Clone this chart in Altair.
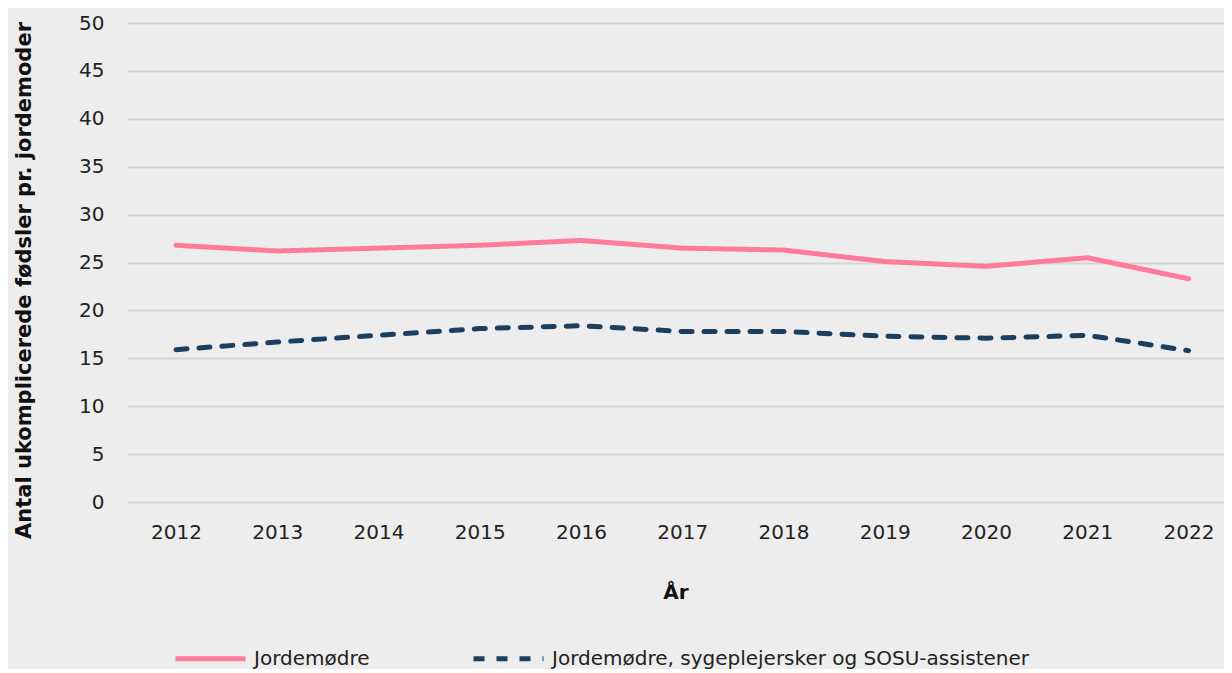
import altair as alt
import pandas as pd

years = [2012, 2013, 2014, 2015, 2016, 2017, 2018, 2019, 2020, 2021, 2022]
jordemodre = [26.8, 26.2, 26.5, 26.8, 27.3, 26.5, 26.3, 25.1, 24.6, 25.5, 23.3]
samlet = [15.9, 16.7, 17.4, 18.1, 18.4, 17.8, 17.8, 17.3, 17.1, 17.4, 15.8]
series_names = ["Jordemødre", "Jordemødre, sygeplejersker og SOSU-assistener"]

rows = []
for y, v in zip(years, jordemodre):
    rows.append({"År": y, "Værdi": v, "Serie": series_names[0]})
for y, v in zip(years, samlet):
    rows.append({"År": y, "Værdi": v, "Serie": series_names[1]})
df = pd.DataFrame(rows)

FONT = "DejaVu Sans"

chart = alt.Chart(df).mark_line(strokeWidth=5, strokeCap="round", strokeJoin="round").encode(
    x=alt.X("År:Q",
            scale=alt.Scale(domain=[2011.516, 2022.35], nice=False, zero=False),
            axis=alt.Axis(values=years, format="d", grid=False, domain=False, ticks=False,
                          labelPadding=20, titlePadding=40, labelFontSize=20,
                          titleFontSize=20, titleFontWeight="bold", labelColor="#222222",
                          titleColor="#111111", labelFont=FONT, titleFont=FONT)),
    y=alt.Y("Værdi:Q",
            scale=alt.Scale(domain=[0, 50], nice=False),
            title="Antal ukomplicerede fødsler pr. jordemoder",
            axis=alt.Axis(values=list(range(0, 51, 5)), grid=True, gridColor="#D6D6D6",
                          gridWidth=2, domain=False, ticks=False, labelPadding=23,
                          titlePadding=44, labelFontSize=20, titleFontSize=21,
                          titleFontWeight="bold", labelColor="#222222", titleColor="#111111",
                          titleY=257, labelFont=FONT, titleFont=FONT)),
    color=alt.Color("Serie:N",
                    scale=alt.Scale(domain=series_names, range=["#FF7B99", "#1C3F5F"]),
                    legend=alt.Legend(title=None, orient="none", legendX=46, legendY=598,
                                      direction="horizontal", symbolType="stroke",
                                      symbolSize=4900, symbolStrokeWidth=5,
                                      labelFontSize=20, labelFont=FONT, labelColor="#222222",
                                      columnPadding=93, labelLimit=700, labelOffset=6)),
    strokeDash=alt.StrokeDash("Serie:N",
                              scale=alt.Scale(domain=series_names, range=[[1, 0], [11, 12]]),
                              legend=None),
).properties(
    width=1097,
    height=479,
    background="#EDEDED",
    padding={"left": 5, "top": 5, "right": 0, "bottom": 0},
).configure_view(stroke=None)

chart.save("out.html", embed_options={"renderer": "svg", "actions": False})
